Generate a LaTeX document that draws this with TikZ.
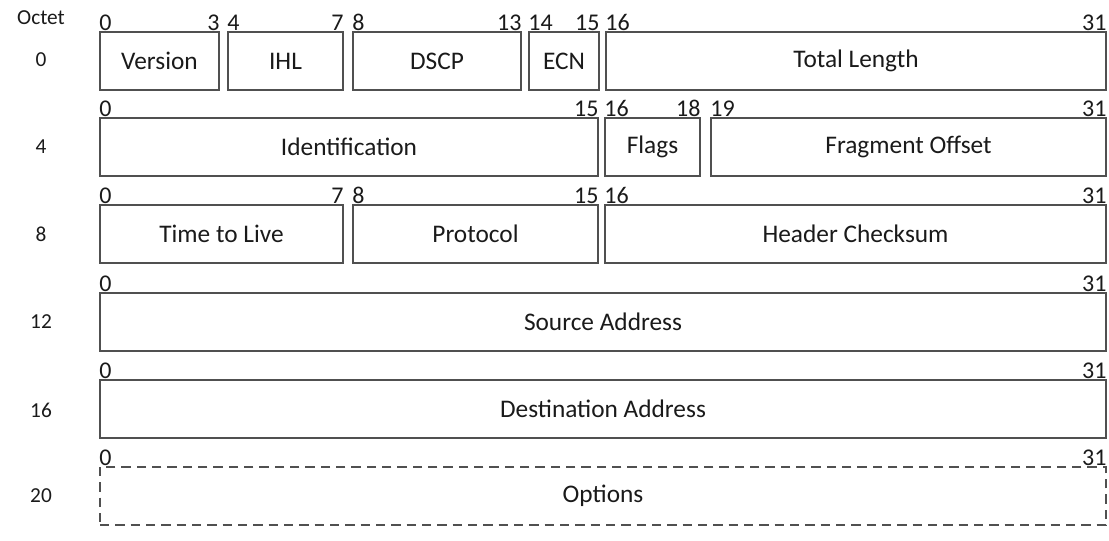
\documentclass[tikz,border=0pt]{standalone}
\usepackage{fontspec}
\setmainfont{Carlito}
\usetikzlibrary{fit}

\definecolor{linegray}{HTML}{505050}
\definecolor{textgray}{HTML}{1a1a1a}

% one field of the header: corners in pixels, text, first and last bit
\newcommand{\hfield}[8][]{%
  \node[field,#1,fit={(#3,#5)(#4,#5+58)},
        label={[ftext]center:#6},
        label={[bit,anchor=south west]north west:#7},
        label={[bit,anchor=south east]north east:#8}] (#2) {};}

\begin{document}
\begin{tikzpicture}[x=0.75pt,y=-0.75pt,
    every node/.style={text=textgray,font=\fontsize{16}{19}\selectfont},
    field/.style={draw=linegray,line width=1.2pt,inner sep=0pt},
    ftext/.style={inner sep=0pt,anchor=center,font=\fontsize{19}{22}\selectfont},
    bit/.style={inner sep=0pt,font=\fontsize{18}{21}\selectfont},
    octet/.style={inner sep=0pt}]
\useasboundingbox (0,0) rectangle (1109,541);

% octet column
\node[octet] (oct)  at (41,18)  {Octet};
\node[octet] (oct0) at (41,60)  {0};
\node[octet] (oct4) at (41,147) {4};
\node[octet] (oct8) at (41,234) {8};
\node[octet] (oct12) at (41,322) {12};
\node[octet] (oct16) at (41,410) {16};
\node[octet] (oct20) at (41,496) {20};

% octet 0
\hfield{ver}{100}{219}{32}{Version}{0}{3}
\hfield{ihl}{228}{343}{32}{IHL}{4}{7}
\hfield{dscp}{353}{521}{32}{DSCP}{8}{13}
\hfield{ecn}{529}{599}{32}{ECN}{14}{15}
\hfield{tlen}{606}{1106}{32}{Total Length}{16}{31}

% octet 4
\hfield{ident}{100}{598}{118}{Identification}{0}{15}
\hfield{flags}{605}{700}{118}{Flags}{16}{18}
\hfield{frag}{711}{1106}{118}{Fragment Offset}{19}{31}

% octet 8
\hfield{ttl}{100}{343}{205}{Time to Live}{0}{7}
\hfield{proto}{353}{598}{205}{Protocol}{8}{15}
\hfield{csum}{605}{1106}{205}{Header Checksum}{16}{31}

% octet 12 to 20
\hfield{src}{100}{1106}{293}{Source Address}{0}{31}
\hfield{dst}{100}{1106}{380}{Destination Address}{0}{31}
\hfield[dash pattern=on 7pt off 4.5pt]{opt}{100}{1106}{467}{Options}{0}{31}
\end{tikzpicture}
\end{document}
